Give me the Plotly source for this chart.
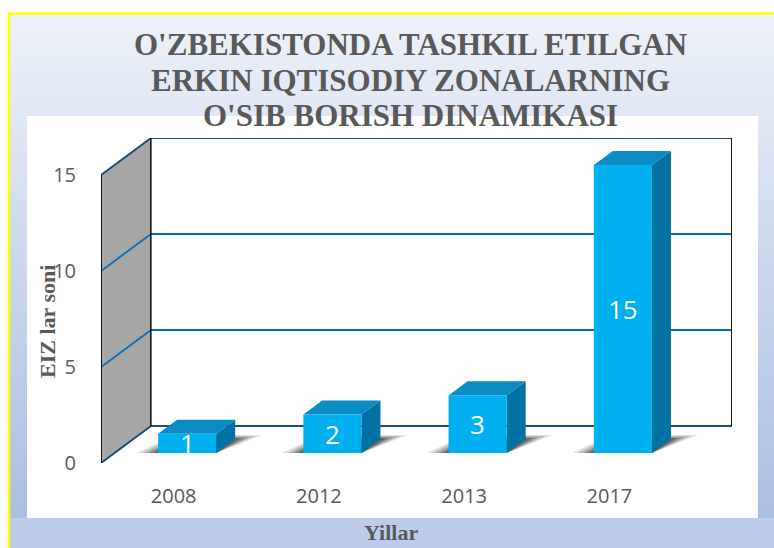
import plotly.graph_objects as go

# ---- data -------------------------------------------------------------
years = ["2008", "2012", "2013", "2017"]
eiz_count = [1, 2, 3, 15]
y_ticks = [0, 5, 10, 15]

title_lines = [
    "O'ZBEKISTONDA TASHKIL ETILGAN",
    "ERKIN IQTISODIY ZONALARNING",
    "O'SIB BORISH DINAMIKASI",
]
x_title = "Yillar"
y_title = "EIZ lar soni"

# ---- geometry / style -------------------------------------------------
W, H = 774, 548
ML, MR, MT, MB = 101, 42, 138, 85
DX = 0.344          # depth offset of the back wall (category units)
DY = 1.927          # depth offset of the back wall (value units)
WALL_TOP = 15
BAR_W = 0.4
F_FRONT, F_BACK = 0.27, 0.65   # bar depth position as fraction of floor depth

FRONT_C = "#00b0f0"
TOP_C = "#0a8bc2"
SIDE_C = "#0073a3"
GRID_C = "#0070c0"
EDGE_C = "#1f4e79"
TEXT_C = "#595959"
SERIF = "Liberation Serif"
SANS = "Open Sans"

PW = W - ML - MR
PH = H - MT - MB


def paper_x(px):
    return (px - ML) / PW


def paper_y(py):
    return (H - MB - py) / PH


def path(points):
    return "M " + " L ".join(f"{x},{y}" for x, y in points) + " Z"


shapes = []

# background gradient inside the frame
top_rgb = (237, 241, 248)
bot_rgb = (171, 190, 228)
y_start, y_end = 13, 518
n_bands = 60
for k in range(n_bands):
    t = k / (n_bands - 1)
    c = tuple(round(a + (b - a) * t) for a, b in zip(top_rgb, bot_rgb))
    ya = y_start + (y_end - y_start) * k / n_bands
    yb = y_start + (y_end - y_start) * (k + 1) / n_bands + 0.6
    shapes.append(dict(type="rect", xref="paper", yref="paper", layer="below",
                       x0=paper_x(9), x1=paper_x(800), y0=paper_y(ya), y1=paper_y(yb),
                       fillcolor=f"rgb{c}", line=dict(width=0)))
shapes.append(dict(type="rect", xref="paper", yref="paper", layer="below",
                   x0=paper_x(9), x1=paper_x(800), y0=paper_y(518), y1=paper_y(580),
                   fillcolor="rgb(189,204,234)", line=dict(width=0)))
# white chart panel
shapes.append(dict(type="rect", xref="paper", yref="paper", layer="below",
                   x0=paper_x(27), x1=paper_x(758), y0=paper_y(116), y1=paper_y(518),
                   fillcolor="white", line=dict(width=0)))
# yellow frame (left and top edges)
shapes.append(dict(type="line", xref="paper", yref="paper", layer="below",
                   x0=paper_x(9), x1=paper_x(9), y0=paper_y(12.5), y1=paper_y(580),
                   line=dict(color="#ffff00", width=2.5)))
shapes.append(dict(type="line", xref="paper", yref="paper", layer="below",
                   x0=paper_x(7.8), x1=paper_x(800), y0=paper_y(13.5), y1=paper_y(13.5),
                   line=dict(color="#ffff00", width=2.5)))

# 3D walls
x_left = -0.5
x_right = len(years) - 0.5
shapes.append(dict(type="path", xref="x", yref="y", layer="below",
                   path=path([(x_left, 0), (x_left, WALL_TOP), (x_left + DX, WALL_TOP + DY),
                              (x_left + DX, DY)]),
                   fillcolor="#a6a6a6", line=dict(color="black", width=1.2)))
shapes.append(dict(type="rect", xref="x", yref="y", layer="below",
                   x0=x_left + DX, x1=x_right + DX, y0=DY, y1=WALL_TOP + DY,
                   fillcolor="white", line=dict(width=0)))
# gridlines on back wall and side wall
for v in y_ticks:
    col = GRID_C if 0 < v < WALL_TOP else EDGE_C
    shapes.append(dict(type="line", xref="x", yref="y", layer="below",
                       x0=x_left + DX, x1=x_right + DX, y0=v + DY, y1=v + DY,
                       line=dict(color=col, width=1.8)))
    shapes.append(dict(type="line", xref="x", yref="y", layer="below",
                       x0=x_left, x1=x_left + DX, y0=v, y1=v + DY,
                       line=dict(color=col, width=1.8)))
# wall edges
shapes.append(dict(type="line", xref="x", yref="y", layer="below",
                   x0=x_right + DX, x1=x_right + DX, y0=DY, y1=WALL_TOP + DY,
                   line=dict(color="black", width=1.8)))
shapes.append(dict(type="line", xref="x", yref="y", layer="below",
                   x0=x_left + DX, x1=x_left + DX, y0=DY, y1=WALL_TOP + DY,
                   line=dict(color="black", width=1.2)))
shapes.append(dict(type="line", xref="x", yref="y", layer="below",
                   x0=x_left, x1=x_left, y0=0, y1=WALL_TOP,
                   line=dict(color="black", width=1.4)))
# floor front edge
shapes.append(dict(type="line", xref="x", yref="y", layer="below",
                   x0=x_left, x1=x_right, y0=-0.06, y1=-0.06,
                   line=dict(color="#d9d9d9", width=2)))

fig = go.Figure()


def poly(points, color):
    xs = [p[0] for p in points] + [points[0][0]]
    ys = [p[1] for p in points] + [points[0][1]]
    fig.add_trace(go.Scatter(x=xs, y=ys, mode="lines", fill="toself",
                             fillcolor=color, line=dict(width=0),
                             hoverinfo="skip", showlegend=False))


# soft floor shadows
a, b = F_FRONT, F_BACK
for i, v in enumerate(eiz_count):
    x0, x1 = i - BAR_W / 2, i + BAR_W / 2
    for grow, alpha in [(0.15, 0.14), (0.11, 0.2), (0.07, 0.28), (0.035, 0.36)]:
        fa, fb = a, b + grow * 0.7
        poly([(x0 - grow + fa * DX, fa * DY), (x1 + fa * DX, fa * DY),
              (x1 + grow + fb * DX, fb * DY), (x0 - grow * 0.3 + fb * DX, fb * DY)],
             f"rgba(30,30,30,{alpha})")

# bars as boxes
for i, v in enumerate(eiz_count):
    x0, x1 = i - BAR_W / 2, i + BAR_W / 2
    poly([(x1 + a * DX, a * DY), (x1 + b * DX, b * DY),
          (x1 + b * DX, v + b * DY), (x1 + a * DX, v + a * DY)], SIDE_C)
    poly([(x0 + a * DX, v + a * DY), (x1 + a * DX, v + a * DY),
          (x1 + b * DX, v + b * DY), (x0 + b * DX, v + b * DY)], TOP_C)
    poly([(x0 + a * DX, a * DY), (x1 + a * DX, a * DY),
          (x1 + a * DX, v + a * DY), (x0 + a * DX, v + a * DY)], FRONT_C)

annotations = []
for i, v in enumerate(eiz_count):
    annotations.append(dict(x=i + a * DX, y=v / 2 + a * DY, xref="x", yref="y",
                            text=str(v), showarrow=False,
                            font=dict(family=SANS, size=26, color="white")))

title_y = [44.5, 80, 115.5]
for line, py in zip(title_lines, title_y):
    annotations.append(dict(x=paper_x(410), y=paper_y(py), xref="paper", yref="paper",
                            text=line, showarrow=False,
                            xanchor="center", yanchor="middle",
                            font=dict(family=SERIF, size=31, color=TEXT_C, weight="bold")))
annotations.append(dict(x=paper_x(47), y=paper_y(322), xref="paper", yref="paper",
                        text=y_title, showarrow=False, textangle=-90,
                        xanchor="center", yanchor="middle",
                        font=dict(family=SERIF, size=22, color=TEXT_C, weight="bold")))
annotations.append(dict(x=paper_x(391), y=paper_y(532), xref="paper", yref="paper",
                        text=x_title, showarrow=False,
                        xanchor="center", yanchor="middle",
                        font=dict(family=SERIF, size=22, color=TEXT_C, weight="bold")))

fig.update_layout(
    width=W, height=H, autosize=False,
    margin=dict(l=ML, r=MR, t=MT, b=MB, pad=0),
    paper_bgcolor="white", plot_bgcolor="rgba(0,0,0,0)",
    showlegend=False,
    shapes=shapes, annotations=annotations,
    xaxis=dict(range=[x_left, x_right + DX], tickvals=list(range(len(years))),
               ticktext=years, showgrid=False, zeroline=False, showline=False,
               ticks="outside", ticklen=15, tickcolor="rgba(0,0,0,0)",
               tickfont=dict(family=SANS, size=20, color=TEXT_C), fixedrange=True),
    yaxis=dict(range=[0, WALL_TOP + DY], tickvals=y_ticks,
               showgrid=False, zeroline=False, showline=False,
               ticks="outside", ticklen=20, tickcolor="rgba(0,0,0,0)",
               tickfont=dict(family=SANS, size=20, color=TEXT_C), fixedrange=True),
)

fig.write_html("out.html")
